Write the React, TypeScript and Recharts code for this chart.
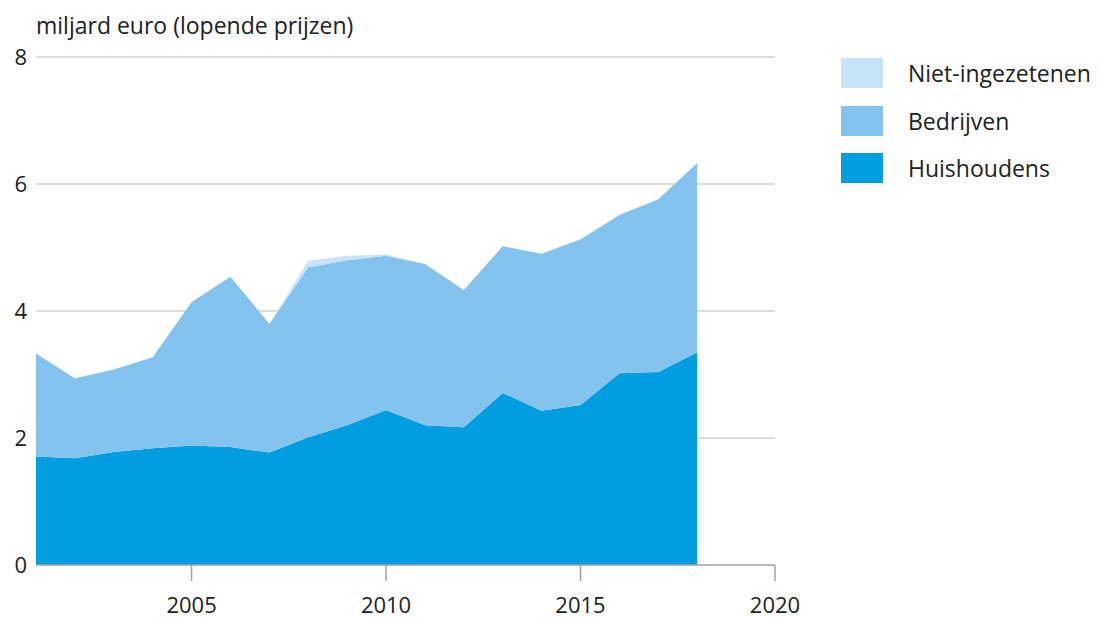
import React from 'react';
import { AreaChart, Area, XAxis, YAxis, CartesianGrid } from 'recharts';

const years = [2001, 2002, 2003, 2004, 2005, 2006, 2007, 2008, 2009, 2010, 2011, 2012, 2013, 2014, 2015, 2016, 2017, 2018];
const huishoudens = [1.71, 1.68, 1.78, 1.84, 1.88, 1.86, 1.77, 2.01, 2.2, 2.44, 2.2, 2.17, 2.71, 2.43, 2.52, 3.02, 3.04, 3.35];
const totaalBedrijven = [3.33, 2.94, 3.08, 3.27, 4.14, 4.54, 3.8, 4.69, 4.8, 4.87, 4.74, 4.33, 5.02, 4.9, 5.13, 5.51, 5.76, 6.33];
const nietIngezetenen = [0, 0, 0, 0, 0, 0, 0, 0.1, 0.07, 0.02, 0, 0, 0, 0, 0, 0, 0, 0];
const xTicks = [2005, 2010, 2015, 2020];
const yTicks = [0, 2, 4, 6, 8];

const COLORS = { niet: '#c6e3f8', bedr: '#84c3ee', huis: '#009ee0' };
const FONT = '"Open Sans", sans-serif';

const data = years.map((y, i) => ({
  year: y,
  huis: huishoudens[i],
  bedr: +(totaalBedrijven[i] - huishoudens[i]).toFixed(3),
  niet: nietIngezetenen[i],
}));

const legendItems = [
  { label: 'Niet-ingezetenen', color: COLORS.niet },
  { label: 'Bedrijven', color: COLORS.bedr },
  { label: 'Huishoudens', color: COLORS.huis },
];

export default function App() {
  return (
    <div style={{ position: 'absolute', left: 0, top: 0, width: 1101, height: 621, background: '#fff', fontFamily: FONT }}>
      <div style={{ position: 'absolute', left: 36, top: 9, fontSize: 23, lineHeight: 'normal', color: '#222', whiteSpace: 'nowrap' }}>
        miljard euro (lopende prijzen)
      </div>
      <AreaChart
        width={1101}
        height={621}
        data={data}
        margin={{ top: 57, right: 326, left: 0, bottom: 16 }}
      >
        <CartesianGrid horizontal vertical={false} stroke="#dcdcdc" strokeWidth={2} horizontalValues={[2, 4, 6, 8]} />
        <XAxis
          dataKey="year"
          type="number"
          domain={[2001, 2020]}
          ticks={xTicks}
          tickSize={16}
          height={40}
          axisLine={{ stroke: '#a0a0a0', strokeWidth: 1.5 }}
          tickLine={{ stroke: '#a0a0a0', strokeWidth: 1.5 }}
          tick={{ fill: '#222', fontSize: 22, fontFamily: FONT }}
          tickMargin={16}
        />
        <YAxis
          type="number"
          domain={[0, 8]}
          ticks={yTicks}
          width={36}
          axisLine={false}
          tickLine={false}
          tick={{ fill: '#222', fontSize: 22, fontFamily: FONT, dx: -1 }}
        />
        <Area type="linear" dataKey="huis" stackId="a" stroke="none" fill={COLORS.huis} fillOpacity={1} isAnimationActive={false} />
        <Area type="linear" dataKey="bedr" stackId="a" stroke="none" fill={COLORS.bedr} fillOpacity={1} isAnimationActive={false} />
        <Area type="linear" dataKey="niet" stackId="a" stroke="none" fill={COLORS.niet} fillOpacity={1} isAnimationActive={false} />
      </AreaChart>
      {legendItems.map((it, i) => (
        <div key={it.label} style={{ position: 'absolute', left: 841, top: 58 + i * 47.5, height: 30, display: 'flex', alignItems: 'center' }}>
          <div style={{ width: 42, height: 30, background: it.color }} />
          <span style={{ marginLeft: 25, fontSize: 23, lineHeight: 'normal', color: '#222', whiteSpace: 'nowrap' }}>{it.label}</span>
        </div>
      ))}
    </div>
  );
}
